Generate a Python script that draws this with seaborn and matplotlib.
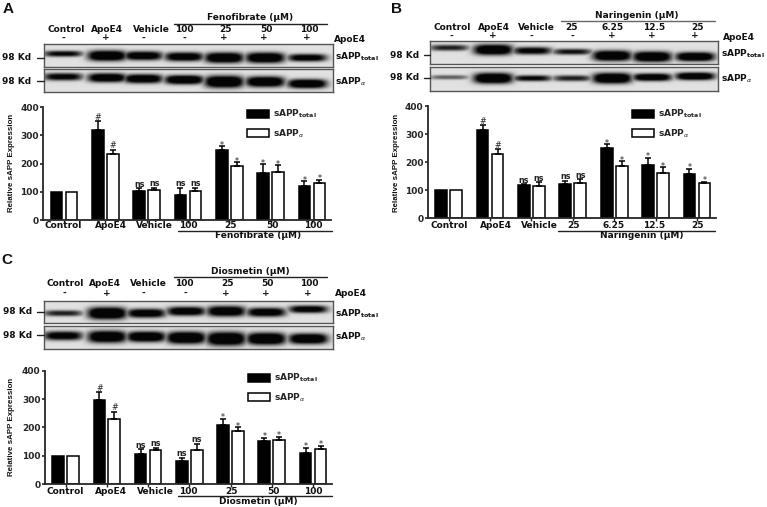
import numpy as np
import pandas as pd
import matplotlib
matplotlib.use('Agg')
import matplotlib.pyplot as plt
from matplotlib.lines import Line2D
import seaborn as sns

W, H = 767, 507

# bar values
a_total = [100, 318, 103, 90, 248, 167, 119]
a_alpha = [99, 233, 107, 104, 193, 170, 132]
a_total_err = [0, 32, 9, 25, 14, 30, 18]
a_alpha_err = [0, 17, 8, 11, 12, 25, 10]
a_total_marks = ['', '#', 'ns', 'ns', '*', '*', '*']
a_alpha_marks = ['', '#', 'ns', 'ns', '*', '*', '*']
a_ticks = ['Control', 'ApoE4', 'Vehicle', '100', '25', '50', '100']

b_total = [100, 313, 117, 123, 250, 189, 158]
b_alpha = [100, 229, 116, 126, 187, 160, 124]
b_total_err = [0, 19, 5, 10, 14, 26, 18]
b_alpha_err = [0, 18, 11, 12, 16, 22, 6]
b_total_marks = ['', '#', 'ns', 'ns', '*', '*', '*']
b_alpha_marks = ['', '#', 'ns', 'ns', '*', '*', '*']
b_ticks = ['Control', 'ApoE4', 'Vehicle', '25', '6.25', '12.5', '25']

c_total = [100, 296, 107, 80, 209, 153, 108]
c_alpha = [100, 229, 119, 121, 187, 155, 125]
c_total_err = [0, 29, 15, 13, 22, 11, 20]
c_alpha_err = [0, 26, 9, 21, 14, 11, 10]
c_total_marks = ['', '#', 'ns', 'ns', '*', '*', '*']
c_alpha_marks = ['', '#', 'ns', 'ns', '*', '*', '*']
c_ticks = ['Control', 'ApoE4', 'Vehicle', '100', '25', '50', '100']

signs = ['-', '+', '-', '-', '+', '+', '+']

# how dark each lane of the blots looks (top blot, bottom blot)
a_bands = [[0.7, 0.95, 0.85, 0.85, 0.95, 0.95, 0.8], [0.75, 0.9, 0.9, 0.95, 1.0, 0.95, 0.95]]
b_bands = [[0.6, 0.95, 0.75, 0.65, 0.95, 0.95, 0.95], [0.4, 1.0, 0.7, 0.6, 1.0, 0.9, 0.95]]
c_bands = [[0.6, 1.0, 0.85, 0.85, 0.9, 0.85, 0.8], [0.8, 0.95, 0.95, 1.0, 1.0, 1.0, 0.95]]

# band thickness per lane, px
a_thick = [[4, 7, 6, 6, 7, 7, 5], [5, 6, 6, 6, 8, 7, 6]]
b_thick = [[4, 7, 5, 4, 7, 7, 6], [3, 7, 4, 4, 7, 5, 5]]
c_thick = [[4, 8, 6, 6, 7, 6, 5], [6, 8, 7, 8, 9, 8, 7]]

sns.set_style('ticks')
plt.rcParams['font.family'] = ['DejaVu Sans']
plt.rcParams['mathtext.fontset'] = 'dejavusans'

fig = plt.figure(figsize=(W / 100, H / 100), dpi=100)


def px_text(x, y, s, size=6.5, ha='center', va='center', **kw):
    fig.text(x / W, 1 - y / H, s, fontsize=size, ha=ha, va=va, fontweight='bold', color='#111111', **kw)


def px_line(x0, x1, y, color='#222222', lw=1.0):
    fig.add_artist(Line2D([x0 / W, x1 / W], [1 - y / H, 1 - y / H], color=color, lw=lw))


def px_axes(x0, x1, y0, y1):
    return fig.add_axes([x0 / W, 1 - y1 / H, (x1 - x0) / W, (y1 - y0) / H])


def draw_blot(box, lanes, dark, thick, skew):
    x0, x1, y0, y1 = box
    ax = px_axes(x0, x1, y0, y1)
    xx, yy = np.meshgrid(np.arange(x0, x1, 0.5), np.arange(y0, y1, 0.5))
    img = np.full(xx.shape, 0.0)
    yc = (y0 + y1) / 2
    for c, d, t, s in zip(lanes, dark, thick, skew):
        band = d * np.exp(-((xx - c) / 19.5) ** 4) * np.exp(-np.abs((yy - (yc + s)) / (t * 0.75)) ** 2.5)
        img = np.maximum(img, band)
    ax.imshow(0.88 - 0.86 * np.clip(img * 1.5, 0, 1), cmap='gray', vmin=0, vmax=1, aspect='auto',
              extent=[x0, x1, y1, y0], interpolation='bilinear')
    ax.set_xticks([])
    ax.set_yticks([])
    for s in ax.spines.values():
        s.set_color('#555555')
        s.set_linewidth(1.0)


def draw_bars(box, total, alpha, total_err, alpha_err, total_marks, alpha_marks):
    ax = px_axes(*box)
    df = pd.DataFrame({
        'pos': list(range(7)) * 2,
        'value': total + alpha,
        'series': ['sAPP total'] * 7 + ['sAPP alpha'] * 7,
    })
    sns.barplot(data=df, x='pos', y='value', hue='series', palette=['black', 'white'], width=0.726, gap=0.22,
                edgecolor='black', linewidth=1.1, errorbar=None, ax=ax)
    errs = [total_err, alpha_err]
    marks = [total_marks, alpha_marks]
    vals = [total, alpha]
    bar_groups = list(ax.containers)
    for k, bars in enumerate(bar_groups):
        for i, bar in enumerate(bars):
            xc = bar.get_x() + bar.get_width() / 2
            top = vals[k][i] + errs[k][i]
            if errs[k][i] > 0:
                ax.errorbar(xc, vals[k][i], yerr=[[0], [errs[k][i]]], color='black', lw=1.1, capsize=2.2,
                            capthick=1.1)
            if marks[k][i]:
                off = -2.5 if marks[k][i] == '*' else -0.5
                ax.annotate(marks[k][i], (xc, top), xytext=(0, off), textcoords='offset points', ha='center',
                            va='bottom', fontsize=5.8, fontweight='normal' if marks[k][i] != 'ns' else 'bold',
                            color='#222222')
    ax.set_xlim(-0.5, 6.46)
    ax.set_ylim(0, 400)
    yt = [0, 100, 200, 300, 400]
    ax.set_yticks(yt, labels=[str(v) for v in yt], fontweight='bold', fontsize=6.5)
    ax.set_xticks(range(7))
    ax.set_xticklabels([])
    ax.set_xlabel('')
    ax.set_ylabel('')
    ax.tick_params(axis='y', length=2.2, width=1.2, pad=1, color='#222222')
    ax.tick_params(axis='x', length=2.5, width=1.0, color='#222222')
    sns.despine(ax=ax)
    ax.spines['left'].set_linewidth(1.3)
    ax.spines['bottom'].set_linewidth(1.3)
    ax.get_legend().remove()
    ax.bar_groups = bar_groups
    return ax


def add_legend(ax, x, y):
    handles = ax.bar_groups[0][0], ax.bar_groups[1][0]
    ax.legend(handles, ['sAPP$_{\\mathbf{total}}$', 'sAPP$_{\\alpha}$'], loc='upper left',
              bbox_to_anchor=(x / W, 1 - y / H), bbox_transform=fig.transFigure, frameon=False,
              prop={'size': 6.5, 'weight': 'bold'},
              handlelength=2.44, handleheight=1.0, labelspacing=0.75, handletextpad=0.45, borderpad=0,
              borderaxespad=0)


def ylabel(x, y):
    px_text(x, y, 'Relative sAPP Expression', size=5.7, rotation=90, family='Liberation Sans')


# panel A
px_text(8, 9, 'A', size=11, family='Liberation Sans')
px_text(250, 18, 'Fenofibrate (µM)')
px_line(174, 327, 23.5)
for x, s in zip([66, 107, 151, 184, 226, 266, 309], ['Control', 'ApoE4', 'Vehicle', '100', '25', '50', '100']):
    px_text(x, 29, s)
for x, s in zip([63, 106, 143, 184, 224, 264, 307], signs):
    px_text(x, 38, s)
px_text(334, 39, 'ApoE4', ha='left')
px_text(2, 58, '98 Kd', ha='left')
px_text(2, 81, '98 Kd', ha='left')
px_line(37, 44, 57.5)
px_line(37, 44, 80.5)
lanes = [63, 107, 143, 184, 224, 265, 307]
draw_blot((44, 333, 44, 67), lanes, a_bands[0], a_thick[0], [-2, 0, 0, 1, 2, 2, 2])
draw_blot((44, 333, 69, 92), lanes, a_bands[1], a_thick[1], [-4, -3, -2, -1, 1, 1, 3])
px_text(335, 57, 'sAPP$_{\\mathbf{total}}$', ha='left')
px_text(335, 82, 'sAPP$_{\\alpha}$', ha='left')
ax = draw_bars((43.3, 331, 107.3, 220), a_total, a_alpha, a_total_err, a_alpha_err, a_total_marks, a_alpha_marks)
add_legend(ax, 247, 108)
ylabel(12, 163)
for x, s in zip([63, 111, 154, 188, 230, 272, 313], a_ticks):
    px_text(x, 225.5, s)
px_line(178, 332, 231)
px_text(258, 236, 'Fenofibrate (µM)')

# panel B
px_text(396, 9, 'B', size=11, family='Liberation Sans')
px_text(637, 16, 'Naringenin (µM)')
px_line(561, 715, 21, color='#666666')
for x, s in zip([452, 494, 536, 572, 613, 654, 697], ['Control', 'ApoE4', 'Vehicle', '25', '6.25', '12.5', '25']):
    px_text(x, 27.5, s)
for x, s in zip([451, 493, 531, 572, 612, 652, 695], signs):
    px_text(x, 36, s)
px_text(723, 37, 'ApoE4', ha='left')
px_text(390, 56, '98 Kd', ha='left')
px_text(390, 78, '98 Kd', ha='left')
px_line(424, 430, 55)
px_line(424, 430, 78)
lanes = [449, 493, 532, 572, 612, 652, 695]
draw_blot((430, 718, 41, 64), lanes, b_bands[0], b_thick[0], [-5, -3, -2, -1, 3, 4, 4])
draw_blot((430, 718, 67, 91), lanes, b_bands[1], b_thick[1], [-2, -1, -1, -1, -1, -2, -3])
px_text(721, 54, 'sAPP$_{\\mathbf{total}}$', ha='left')
px_text(721, 79, 'sAPP$_{\\alpha}$', ha='left')
ax = draw_bars((428, 716, 106, 218), b_total, b_alpha, b_total_err, b_alpha_err, b_total_marks, b_alpha_marks)
add_legend(ax, 632, 108)
ylabel(397, 163)
for x, s in zip([449, 496, 539, 573, 614, 654, 697], b_ticks):
    px_text(x, 226, s)
px_line(558, 715, 231)
px_text(642, 236, 'Naringenin (µM)')

# panel C
px_text(7, 260, 'C', size=11, family='Liberation Sans')
px_text(250, 272, 'Diosmetin (µM)')
px_line(174, 327, 277)
for x, s in zip([65, 105, 148, 184, 227, 267, 309], ['Control', 'ApoE4', 'Vehicle', '100', '25', '50', '100']):
    px_text(x, 284, s)
for x, s in zip([64, 107, 143, 185, 226, 266, 308], signs):
    px_text(x, 293, s)
px_text(335, 293.5, 'ApoE4', ha='left')
px_text(3, 312, '98 Kd', ha='left')
px_text(3, 335, '98 Kd', ha='left')
px_line(37, 44, 312)
px_line(37, 44, 335)
lanes = [63, 107, 146, 186, 226, 266, 308]
draw_blot((44, 333, 301, 323), lanes, c_bands[0], c_thick[0], [1, 1, 1, -1, -1, 0, -3])
draw_blot((44, 333, 326, 349), lanes, c_bands[1], c_thick[1], [-2, -1, -1, 0, 1, 1, 1])
px_text(335, 314, 'sAPP$_{\\mathbf{total}}$', ha='left')
px_text(335, 337, 'sAPP$_{\\alpha}$', ha='left')
ax = draw_bars((45, 332, 370.7, 484), c_total, c_alpha, c_total_err, c_alpha_err, c_total_marks, c_alpha_marks)
add_legend(ax, 248, 372)
ylabel(12, 427)
for x, s in zip([65, 111, 155, 188, 231, 273, 313], c_ticks):
    px_text(x, 491, s)
px_line(178, 332, 496)
px_text(258, 501, 'Diosmetin (µM)')

fig.savefig('out.png', dpi=100)
